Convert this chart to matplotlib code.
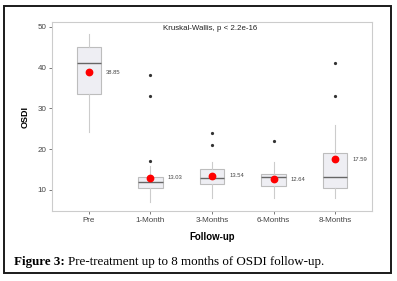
import matplotlib
matplotlib.use("Agg")
import matplotlib.pyplot as plt
from matplotlib.patches import Rectangle

# data
groups = ["Pre", "1-Month", "3-Months", "6-Months", "8-Months"]
medians = [41.2, 12.0, 13.0, 13.1, 13.1]
q1 = [33.6, 10.5, 11.5, 11.0, 10.4]
q3 = [45.1, 13.3, 15.1, 13.9, 19.0]
whisk_lo = [24.2, 7.1, 8.0, 8.0, 8.0]
whisk_hi = [48.3, 15.8, 16.9, 16.9, 26.0]
outliers = [[], [38.1, 33.1, 17.2], [24.1, 21.1], [22.0], [41.1, 33.1]]
means = [38.85, 13.03, 13.54, 12.64, 17.59]
stat_text = "Kruskal-Wallis, p < 2.2e-16"

plt.rcParams["font.family"] = ["Liberation Sans", "DejaVu Sans"]

fig = plt.figure(figsize=(3.97, 2.81), dpi=100)
ax = fig.add_axes([52 / 397, 1 - 211 / 281, 320 / 397, 189 / 281])

stats = []
for i, g in enumerate(groups):
    stats.append({
        "label": g, "med": medians[i], "q1": q1[i], "q3": q3[i],
        "whislo": whisk_lo[i], "whishi": whisk_hi[i], "fliers": outliers[i],
    })

pos = list(range(1, len(groups) + 1))
ax.bxp(stats, positions=pos, widths=0.4, showfliers=True, patch_artist=True,
       boxprops=dict(facecolor="#eeeef3", edgecolor="#bdbdbd", linewidth=0.8),
       medianprops=dict(color="#666666", linewidth=1.0),
       whiskerprops=dict(color="#cccccc", linewidth=0.8),
       capprops=dict(linewidth=0),
       flierprops=dict(marker="o", markersize=1.3, markerfacecolor="#333333",
                       markeredgecolor="#333333"))

ax.plot(pos, means, "o", color="red", markersize=4.6, zorder=5, linestyle="none")
for p, m in zip(pos, means):
    ax.text(p + 0.28, m, f"{m:.2f}", fontsize=4.2, color="#444444", va="center", ha="left")

ax.text(2.2, 49.5, stat_text, fontsize=5.7, color="#222222", va="center", ha="left")

ax.set_xlim(0.4, 5.6)
ax.set_ylim(4.85, 51.2)
ax.set_yticks([10, 20, 30, 40, 50])
ax.set_xticks(pos)
ax.set_xticklabels(groups)
ax.tick_params(labelsize=5.8, colors="#444444", length=2, width=0.5, pad=2)
for s in ax.spines.values():
    s.set_color("#cccccc")
    s.set_linewidth(0.8)

ax.set_xlabel("Follow-up", fontsize=6.9, fontweight="bold", labelpad=6)
ax.set_ylabel("OSDI", fontsize=6.5, fontweight="bold", labelpad=6)

# caption and frame
fig.patches.append(Rectangle((4 / 397, 1 - 273 / 281), 387 / 397, 267 / 281,
                             transform=fig.transFigure, fill=False,
                             edgecolor="#1a1a1a", linewidth=1.4))
cap1 = fig.text(14 / 397, 1 - 262 / 281, "Figure 3:", fontsize=9.4, fontweight="bold",
                family=["Liberation Serif"], va="center", ha="left")
fig.canvas.draw()
bb = cap1.get_window_extent()
fig.text(bb.x1 / fig.bbox.width + 3 / 397, 1 - 262 / 281,
         "Pre-treatment up to 8 months of OSDI follow-up.", fontsize=9.4,
         family=["Liberation Serif"], va="center", ha="left")

fig.savefig("out.png", dpi=100)
